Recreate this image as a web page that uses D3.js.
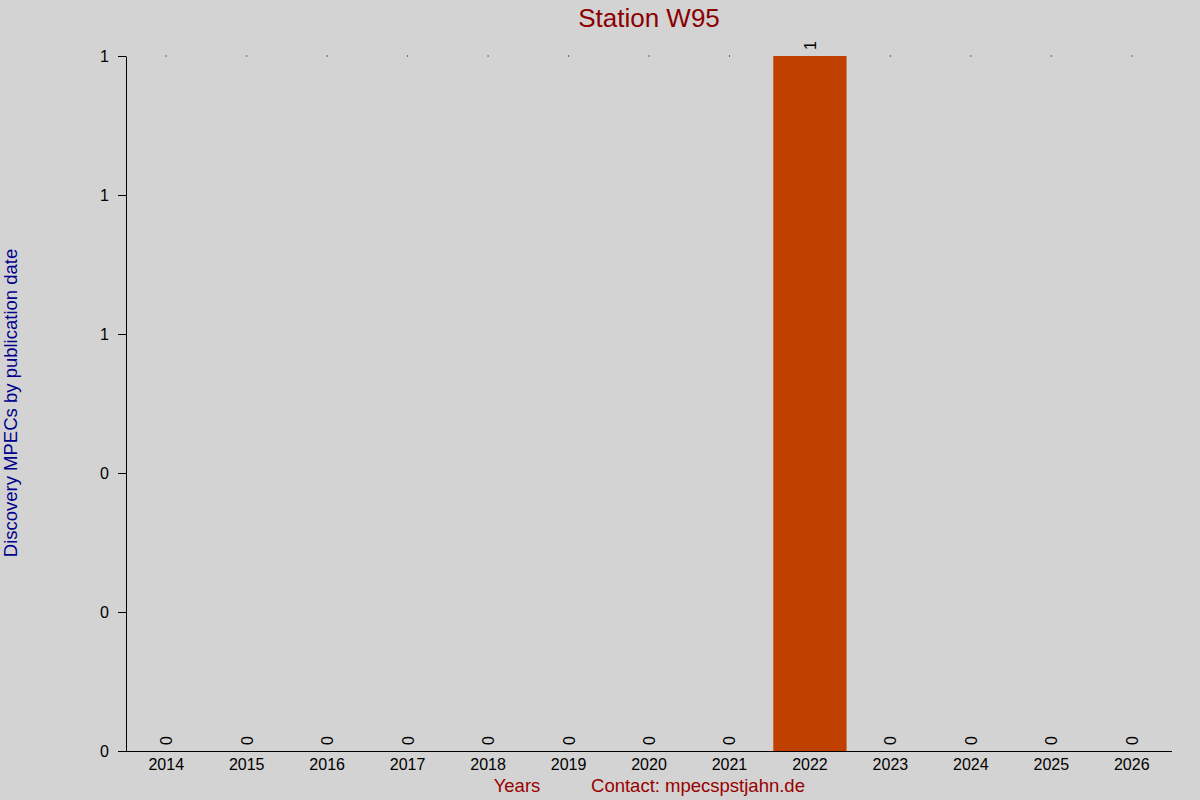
<!DOCTYPE html>
<html>
<head>
<meta charset="utf-8">
<script src="https://d3js.org/d3.v7.min.js"></script>
<style>
  body { margin: 0; background: #d3d3d3; }
  svg { display: block; font-family: "Liberation Sans", Arial, sans-serif; }
</style>
</head>
<body>
<svg></svg>
<script>
// MPEC discoveries per year for one station
const years = ["2014", "2015", "2016", "2017", "2018", "2019", "2020", "2021", "2022", "2023", "2024", "2025", "2026"];
const counts = [0, 0, 0, 0, 0, 0, 0, 0, 1, 0, 0, 0, 0];
const yTicks = [0, 0.2, 0.4, 0.6, 0.8, 1];

const width = 1200, height = 800;
const marginTop = 56, marginRight = 28, marginBottom = 49, marginLeft = 126;

const svg = d3.select("svg")
  .attr("width", width)
  .attr("height", height);

svg.append("rect")
  .attr("width", width)
  .attr("height", height)
  .attr("fill", "#d3d3d3");

const data = years.map((y, i) => ({ year: y, value: counts[i] }));

// scales
const x = d3.scaleBand()
  .domain(years)
  .range([marginLeft, width - marginRight])
  .paddingInner(0.09)
  .paddingOuter(0.045);

const y = d3.scaleLinear()
  .domain([0, 1])
  .range([height - marginBottom, marginTop]);

// bars
svg.selectAll(".bar")
  .data(data)
  .enter().append("rect")
  .attr("class", "bar")
  .attr("x", d => x(d.year))
  .attr("y", d => y(d.value))
  .attr("width", x.bandwidth())
  .attr("height", d => y(0) - y(d.value))
  .attr("fill", "#c04000");

// little dots at the top of each column
svg.selectAll(".dot")
  .data(data.filter(d => d.value < 1))
  .enter().append("rect")
  .attr("class", "dot")
  .attr("x", d => x(d.year) + x.bandwidth() / 2 - 0.5)
  .attr("y", y(1) - 0.5)
  .attr("width", 1)
  .attr("height", 1)
  .attr("fill", "#000");

// y axis
const yAxis = svg.append("g")
  .attr("transform", `translate(${marginLeft},0)`)
  .call(d3.axisLeft(y).tickValues(yTicks).tickFormat(d3.format(".0f")).tickSize(8).tickSizeOuter(0));
yAxis.selectAll("text")
  .attr("font-size", 16)
  .attr("font-family", "Liberation Sans, Arial, sans-serif")
  .attr("x", -17)
  .attr("fill", "#000");
yAxis.selectAll("line, path").attr("stroke", "#000");

// x axis
const xAxis = svg.append("g")
  .attr("transform", `translate(0,${height - marginBottom})`)
  .call(d3.axisBottom(x).tickSize(0).tickSizeOuter(0));
xAxis.select(".domain")
  .attr("d", `M${marginLeft - 8},0.5H${width - marginRight}`)
  .attr("stroke", "#000");
xAxis.selectAll("text")
  .attr("font-size", 16)
  .attr("font-family", "Liberation Sans, Arial, sans-serif")
  .attr("dy", "0")
  .attr("y", 19)
  .attr("fill", "#000");

// value labels, rotated
svg.selectAll(".val")
  .data(data)
  .enter().append("text")
  .attr("class", "val")
  .attr("transform", d => `translate(${x(d.year) + x.bandwidth() / 2 + 6},${y(d.value) - 6}) rotate(-90)`)
  .attr("text-anchor", "start")
  .attr("font-size", 16)
  .attr("fill", "#000")
  .text(d => d.value);

// title
svg.append("text")
  .attr("x", 649)
  .attr("y", 27)
  .attr("text-anchor", "middle")
  .attr("font-size", 26)
  .attr("fill", "#8b0000")
  .text("Station W95");

// y label
svg.append("text")
  .attr("transform", `translate(17,403) rotate(-90)`)
  .attr("text-anchor", "middle")
  .attr("font-size", 18.5)
  .attr("fill", "#00008b")
  .text("Discovery MPECs by publication date");

// x labels
svg.append("text")
  .attr("x", 517)
  .attr("y", 792)
  .attr("text-anchor", "middle")
  .attr("font-size", 18.5)
  .attr("fill", "#990000")
  .text("Years");

svg.append("text")
  .attr("x", 698)
  .attr("y", 792)
  .attr("text-anchor", "middle")
  .attr("font-size", 18.5)
  .attr("fill", "#990000")
  .text("Contact: mpecspstjahn.de");
</script>
</body>
</html>
